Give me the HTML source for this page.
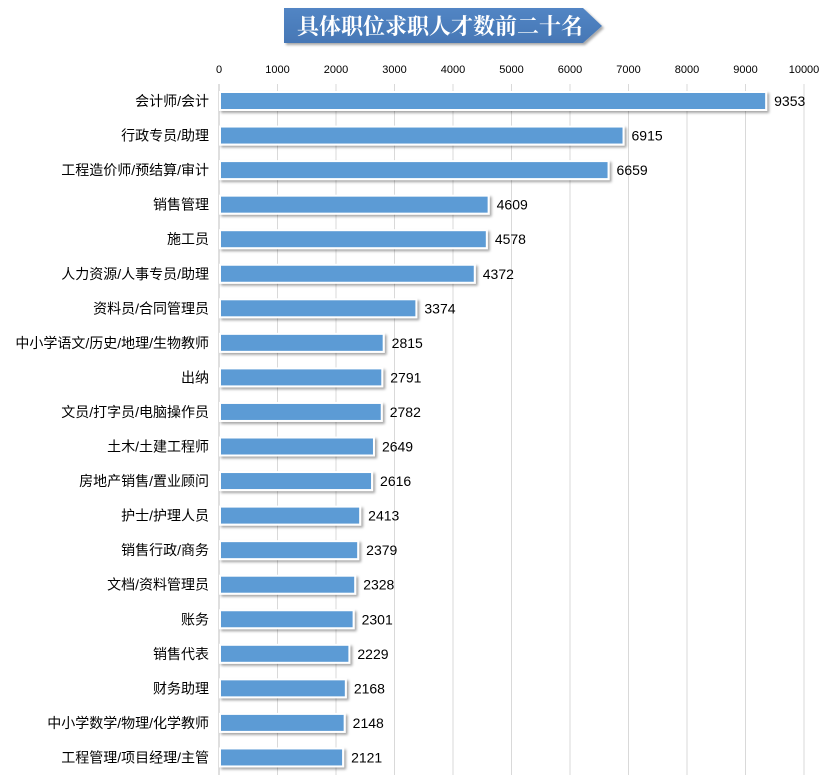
<!DOCTYPE html>
<html><head><meta charset="utf-8"><style>
body{margin:0;background:#fff;}
svg{display:block;font-family:"Liberation Sans","Noto Sans CJK SC",sans-serif;}
</style></head><body>
<svg id="c" width="828" height="784" viewBox="0 0 828 784">
<defs>
<linearGradient id="bg" x1="0" y1="0" x2="0" y2="1"><stop offset="0" stop-color="#5285c4"/><stop offset="1" stop-color="#4677b5"/></linearGradient>
<filter id="sh" x="-5%" y="-30%" width="110%" height="170%"><feDropShadow dx="2" dy="2" stdDeviation="1.2" flood-color="#000" flood-opacity="0.35"/></filter>
</defs>
<g>
<polygon points="284,8 583,8 602,26 583,43 284,43" fill="url(#bg)" filter="url(#sh)"/>
<text x="440" y="34" text-anchor="middle" fill="#fff" font-size="22" font-weight="bold" font-family="'Liberation Serif','Noto Serif CJK SC',serif">具体职位求职人才数前二十名</text>
</g>
<g id="grid"></g><g id="bars"></g>
</svg>
<script>
const categories=["会计师/会计","行政专员/助理","工程造价师/预结算/审计","销售管理","施工员","人力资源/人事专员/助理","资料员/合同管理员","中小学语文/历史/地理/生物教师","出纳","文员/打字员/电脑操作员","土木/土建工程师","房地产销售/置业顾问","护士/护理人员","销售行政/商务","文档/资料管理员","账务","销售代表","财务助理","中小学数学/物理/化学教师","工程管理/项目经理/主管"];
const values=[9353,6915,6659,4609,4578,4372,3374,2815,2791,2782,2649,2616,2413,2379,2328,2301,2229,2168,2148,2121];
const ticks=[0,1000,2000,3000,4000,5000,6000,7000,8000,9000,10000];
const NS="http://www.w3.org/2000/svg";
const x0=219,x1=804,maxV=10000;
const xs=v=>x0+(x1-x0)*v/maxV;
const yc=i=>101+i*34.55;
const grid=document.getElementById('grid'),bars=document.getElementById('bars');
function mk(tag,attrs,parent){const e=document.createElementNS(NS,tag);for(const k in attrs)e.setAttribute(k,attrs[k]);parent.appendChild(e);return e;}
ticks.forEach(t=>{
 const l=mk('line',{x1:xs(t),x2:xs(t),y1:84,y2:775,stroke:t===0?'#bfbfbf':'#d9d9d9','stroke-width':1},grid);
 
 
 const tx=mk('text',{x:xs(t),y:73,'text-anchor':'middle','font-size':11,fill:'#000'},grid);
 tx.textContent=t;
 
 
});
categories.forEach((c,i)=>{
 const y=yc(i);
 const r=mk('rect',{x:x0+1,y:y-9,width:xs(values[i])-x0-1,height:18,fill:'#5b9bd5',stroke:'#fff','stroke-width':2,filter:'url(#sh)'},bars);
 
 
 const lb=mk('text',{x:209,y:y+5,'text-anchor':'end','font-size':14,fill:'#000'},bars);
 lb.textContent=c;
 
 
 const v=mk('text',{x:xs(values[i])+8,y:y+5,'font-size':14,fill:'#000'},bars);
 v.textContent=values[i];
 
 
});
</script>
</body></html>
